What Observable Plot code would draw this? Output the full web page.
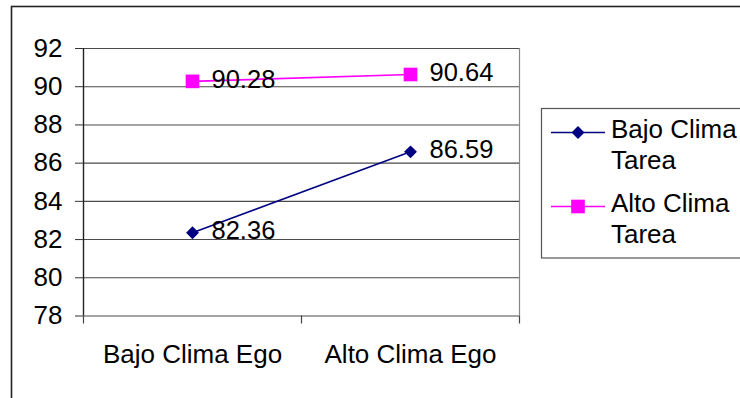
<!DOCTYPE html>
<html>
<head>
<meta charset="utf-8">
<script src="https://cdn.jsdelivr.net/npm/d3@7"></script>
<script src="https://cdn.jsdelivr.net/npm/@observablehq/plot@0.6"></script>
<style>
  html, body { margin: 0; padding: 0; background: #fff; }
  #chart { position: relative; width: 740px; height: 398px; overflow: hidden; }
</style>
</head>
<body>
<div id="chart"></div>
<script>
const categories = ["Bajo Clima Ego", "Alto Clima Ego"];
const seriesNames = ["Bajo Clima Tarea", "Alto Clima Tarea"];
const bajoClimaTarea = [82.36, 86.59];
const altoClimaTarea = [90.28, 90.64];
const yTicks = [78, 80, 82, 84, 86, 88, 90, 92];
const seriesColors = ["#000080", "#FF00FF"];
const seriesSymbols = ["diamond2", "square"];

const rows = [];
[bajoClimaTarea, altoClimaTarea].forEach((vals, s) => {
  vals.forEach((v, i) => rows.push({series: seriesNames[s], cat: categories[i], value: v}));
});
const xPos = d => categories.indexOf(d.cat) + 0.5;
const font = "'Liberation Sans', Arial, sans-serif";

const plot = Plot.plot({
  width: 740,
  height: 398,
  marginTop: 48,
  marginLeft: 83,
  marginRight: 221,
  marginBottom: 82.5,
  style: {fontFamily: font, fontSize: "26px", background: "transparent", color: "#000"},
  x: {domain: [0, categories.length], label: null},
  y: {domain: [78, 92], label: null},
  color: {domain: seriesNames, range: seriesColors},
  symbol: {domain: seriesNames, range: seriesSymbols},
  marks: [
    Plot.gridY(yTicks, {stroke: "#4a4a4a", strokeOpacity: 1, strokeWidth: 1.1}),
    Plot.ruleX([categories.length], {stroke: "#888", strokeWidth: 1.2}),
    Plot.ruleX([0], {stroke: "#222", strokeWidth: 1.4}),
    Plot.axisY(yTicks, {tickSize: 8, tickPadding: 13, stroke: "#333", fontSize: 26, fill: "#000", label: null}),
    Plot.axisX(d3.range(categories.length + 1), {tickSize: 8, tickFormat: () => "", stroke: "#444", strokeWidth: 1.2, label: null}),
    Plot.axisX(categories.map((c, i) => i + 0.5), {tickSize: 0, tickPadding: 29, tickFormat: d => categories[d - 0.5], fontSize: 26, fill: "#000", label: null}),
    Plot.line(rows, {x: xPos, y: "value", z: "series", stroke: "series", strokeWidth: 1.6}),
    Plot.dot(rows.filter(d => d.series === seriesNames[0]), {x: xPos, y: "value", symbol: "series", fill: "series", r: 5.8, stroke: null}),
    Plot.dot(rows.filter(d => d.series === seriesNames[1]), {x: xPos, y: "value", symbol: "series", fill: "series", r: 7.7, stroke: null}),
    Plot.text(rows, {x: xPos, y: "value", text: d => d.value.toFixed(2), textAnchor: "start", dx: 19, dy: -2, fontSize: 25.5, fill: "#000"})
  ]
});

document.getElementById("chart").appendChild(plot);

// Outer chart border and legend
const svg = d3.select(plot);
svg.insert("rect", ":first-child")
  .attr("x", 11.5).attr("y", 6.5).attr("width", 800).attr("height", 500)
  .attr("fill", "#fff").attr("stroke", "#222").attr("stroke-width", 1.6);

const lg = svg.append("g").attr("font-family", font).attr("font-size", 26).attr("text-anchor", "start");
lg.append("rect").attr("x", 541.5).attr("y", 108.5).attr("width", 300).attr("height", 149.5)
  .attr("fill", "#fff").attr("stroke", "#555").attr("stroke-width", 1.2);
const legendItems = [
  {lines: ["Bajo Clima", "Tarea"], lineY: 132.5, base: 138, size: 5.8},
  {lines: ["Alto Clima", "Tarea"], lineY: 206.5, base: 212, size: 7.7}
];
legendItems.forEach((it, i) => {
  lg.append("line").attr("x1", 551).attr("x2", 605).attr("y1", it.lineY).attr("y2", it.lineY)
    .attr("stroke", seriesColors[i]).attr("stroke-width", 1.6);
  const sym = i === 0 ? d3.symbolDiamond2 : d3.symbolSquare;
  lg.append("path").attr("transform", `translate(578,${it.lineY})`)
    .attr("d", d3.symbol(sym, it.size * it.size * Math.PI)())
    .attr("fill", seriesColors[i]);
  it.lines.forEach((t, j) => {
    lg.append("text").attr("x", 611).attr("y", it.base + j * 31).attr("text-anchor", "start").attr("fill", "#000").text(t);
  });
});
</script>
</body>
</html>
